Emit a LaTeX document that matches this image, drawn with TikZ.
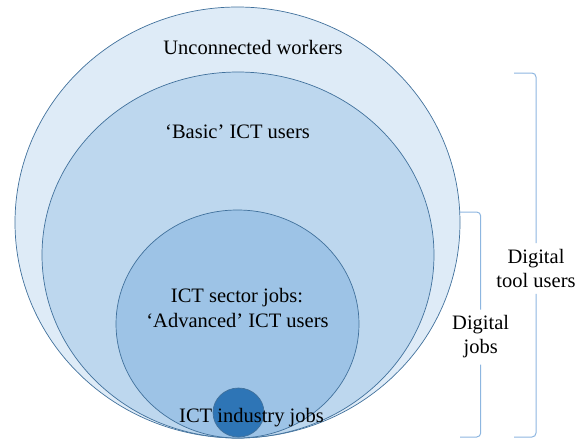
\documentclass[tikz,border=0pt]{standalone}
\usepackage{fontspec}
\setmainfont{Liberation Serif}
\usetikzlibrary{shapes.geometric}
\definecolor{ringA}{HTML}{DEEBF7}
\definecolor{ringB}{HTML}{BDD7EE}
\definecolor{ringC}{HTML}{9DC3E6}
\definecolor{ringD}{HTML}{2E75B6}
\definecolor{ringline}{HTML}{41719C}
\definecolor{bracecol}{HTML}{8DB6E0}
\tikzset{
  ring/.style={ellipse, draw=ringline, line width=0.7pt, inner sep=0pt},
  lbl/.style={font=\fontsize{20.5}{24}\selectfont, inner sep=0pt, anchor=base},
  sidelbl/.style={font=\fontsize{20.5}{24}\selectfont, align=center, fill=white, inner xsep=1pt, inner ysep=6pt},
  bracket/.style={draw=bracecol, line width=1pt, rounded corners=4pt}
}
\begin{document}
\begin{tikzpicture}[x=1pt,y=-1pt]
\useasboundingbox (0,0) rectangle (579,440);
% nested rings
\node[ring, fill=ringA, minimum width=445pt, minimum height=431pt] (outer) at (237.5,222.5) {};
\node[ring, fill=ringB, minimum width=392pt, minimum height=366pt] (basic) at (238,255) {};
\node[ring, fill=ringC, minimum width=243pt, minimum height=228pt] (adv) at (237.5,324) {};
\node[ring, fill=ringD, minimum width=51pt, minimum height=49pt] (ind) at (238.5,412.5) {};
% labels
\node[lbl] (tUnc) at (253,54) {Unconnected workers};
\node[lbl] (tBas) at (237.5,138) {‘Basic’ ICT users};
\node[lbl] (tAdv1) at (237,302) {ICT sector jobs:};
\node[lbl] (tAdv2) at (237.5,327) {‘Advanced’ ICT users};
\node[lbl] (tInd) at (251.5,422) {ICT industry jobs};
% side labels
\node[sidelbl] (tTool) at (536,268.5) {Digital\\tool users};
\node[sidelbl] (tJobs) at (480.7,337) {Digital\\jobs};
% brackets
\coordinate (tt) at (514,73);
\coordinate (tb) at (514,437);
\coordinate (jt) at (460,212);
\coordinate (jb) at (460,437);
\draw[bracket] (tt) -| (tTool.north);
\draw[bracket] (tTool.south) |- (tb);
\draw[bracket] (jt) -| (tJobs.north);
\draw[bracket] (tJobs.south) |- (jb);
\end{tikzpicture}
\end{document}
